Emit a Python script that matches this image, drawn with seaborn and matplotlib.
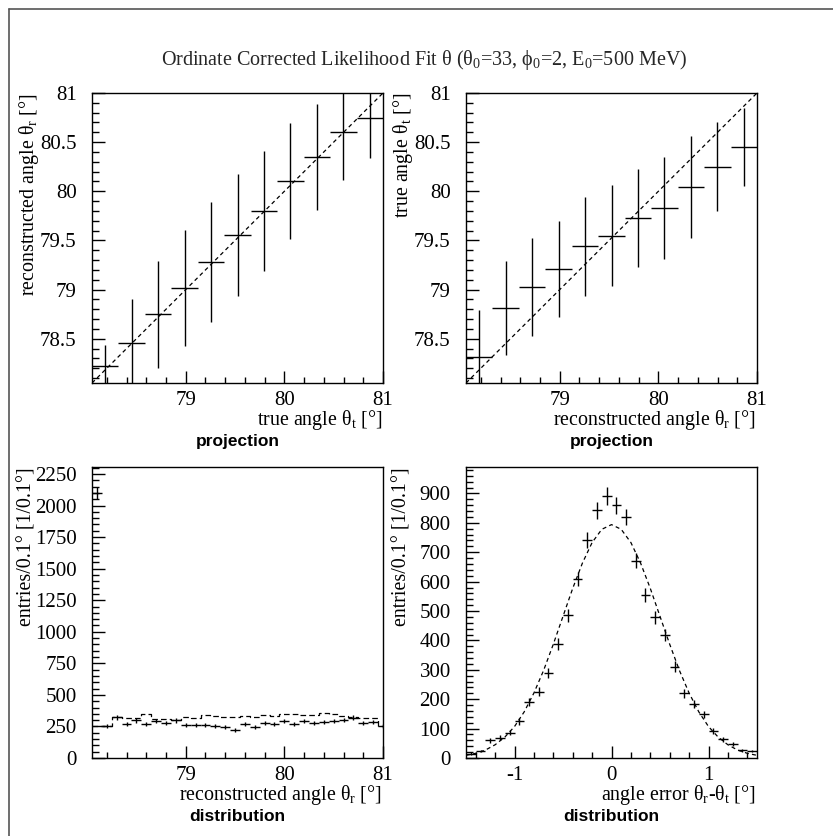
import numpy as np
import pandas as pd
import matplotlib
matplotlib.use("Agg")
import matplotlib.pyplot as plt
from matplotlib.ticker import MultipleLocator, FuncFormatter
from matplotlib.lines import Line2D
import seaborn as sns

# ---------------- data ----------------
title = "Ordinate Corrected Likelihood Fit θ (θ$_0$=33, ϕ$_0$=2, E$_0$=500 MeV)"

angle_range = [78.05, 81.0]

# profile bins (top panels)
prof_centers = [78.184, 78.452, 78.720, 78.989, 79.257, 79.525, 79.793, 80.061, 80.329, 80.598, 80.866]
prof_width = 0.268
reco_vs_true = [78.22, 78.46, 78.75, 79.02, 79.28, 79.56, 79.80, 80.10, 80.35, 80.60, 80.75]
reco_vs_true_err = [0.22, 0.44, 0.545, 0.59, 0.61, 0.62, 0.61, 0.59, 0.54, 0.48, 0.41]
true_vs_reco = [78.31, 78.81, 79.03, 79.21, 79.44, 79.55, 79.73, 79.83, 80.04, 80.25, 80.45]
true_vs_reco_err = [0.48, 0.48, 0.50, 0.49, 0.50, 0.51, 0.50, 0.52, 0.52, 0.45, 0.40]

# reconstructed-angle distribution (bottom left), 0.1 deg bins
dist_centers = [78.1, 78.2, 78.3, 78.4, 78.5, 78.6, 78.7, 78.8, 78.9, 79.0,
                79.1, 79.2, 79.3, 79.4, 79.5, 79.6, 79.7, 79.8, 79.9, 80.0,
                80.1, 80.2, 80.3, 80.4, 80.5, 80.6, 80.7, 80.8, 80.9, 81.0]
dist_reco = [2100, 250, 322, 266, 298, 266, 292, 277, 298, 258,
             262, 262, 253, 245, 223, 266, 245, 277, 266, 292,
             266, 292, 277, 285, 292, 303, 319, 277, 285, 250]
dist_true = [250, 250, 324, 320, 320, 346, 311, 311, 303, 325,
             320, 343, 333, 325, 325, 330, 325, 338, 330, 351,
             346, 338, 338, 356, 351, 330, 325, 317, 320, 250]
dist_bin = 0.1

# angle error distribution (bottom right)
err_centers = [-1.45, -1.35, -1.25, -1.15, -1.05, -0.95, -0.85, -0.75, -0.65, -0.55,
               -0.45, -0.35, -0.25, -0.15, -0.05, 0.05, 0.15, 0.25, 0.35, 0.45,
               0.55, 0.65, 0.75, 0.85, 0.95, 1.05, 1.15, 1.25, 1.35, 1.45]
err_counts = [15, 24, 60, 69, 86, 125, 189, 225, 288, 387,
              485, 609, 741, 843, 891, 860, 820, 671, 555, 478,
              419, 311, 220, 183, 149, 92, 63, 47, 26, 24]
err_bin = 0.1
# dashed fit curve
fit_x = [-1.5, -1.4, -1.3, -1.2, -1.1, -1.0, -0.9, -0.8, -0.7, -0.6, -0.5, -0.4, -0.3, -0.2, -0.1, 0.0,
         0.1, 0.2, 0.3, 0.4, 0.5, 0.6, 0.7, 0.8, 0.9, 1.0, 1.1, 1.2, 1.3, 1.4, 1.5]
fit_y = [9, 16, 27, 45, 71, 107, 157, 221, 298, 387, 482, 577, 663, 733, 778, 794,
         778, 733, 663, 577, 482, 387, 298, 221, 157, 107, 71, 45, 27, 16, 9]

# ---------------- style ----------------
sns.set_theme(style="white")
plt.rcParams["font.family"] = ["Liberation Serif", "DejaVu Serif"]
plt.rcParams["mathtext.fontset"] = "custom"
plt.rcParams["mathtext.rm"] = "Liberation Serif"
plt.rcParams["mathtext.it"] = "Liberation Serif:italic"
plt.rcParams["mathtext.bf"] = "Liberation Serif:bold"
plt.rcParams["axes.unicode_minus"] = False

W, H = 833, 836
fig = plt.figure(figsize=(W / 100, H / 100), dpi=100)
fig.patch.set_facecolor("white")


def axes_px(left, top, right, bottom):
    return fig.add_axes([left / W, 1 - bottom / H, (right - left) / W, (bottom - top) / H])


ax_tl = axes_px(92, 93, 383, 383)
ax_tr = axes_px(466, 93, 757, 383)
ax_bl = axes_px(92, 467, 383, 758)
ax_br = axes_px(466, 467, 757, 758)

fmt = FuncFormatter(lambda v, p: f"{v:g}")


def style(ax, xmaj, xmin, ymaj, ymin):
    ax.set_facecolor("white")
    ax.grid(False)
    for s in ax.spines.values():
        s.set_color("black")
        s.set_linewidth(1.0)
        s.set_visible(True)
    ax.xaxis.set_major_locator(MultipleLocator(xmaj))
    ax.xaxis.set_minor_locator(MultipleLocator(xmin))
    ax.yaxis.set_major_locator(MultipleLocator(ymaj))
    ax.yaxis.set_minor_locator(MultipleLocator(ymin))
    ax.xaxis.set_major_formatter(fmt)
    ax.yaxis.set_major_formatter(fmt)
    ax.tick_params(axis="both", which="both", direction="in", top=False, right=False,
                   bottom=True, left=True, colors="black", width=1.0, labelsize=15)
    ax.tick_params(axis="x", which="major", length=8.4, pad=5.5)
    ax.tick_params(axis="x", which="minor", length=4.3)
    ax.tick_params(axis="y", which="major", length=9.4, pad=11)
    ax.tick_params(axis="y", which="minor", length=5.0)
    ax.set_xlabel("")
    ax.set_ylabel("")


dash = (0, (3.2, 2.6))

# ---- top panels: profiles ----
df_diag = pd.DataFrame({"x": angle_range, "y": angle_range})
for ax, yv, ye in [(ax_tl, reco_vs_true, reco_vs_true_err), (ax_tr, true_vs_reco, true_vs_reco_err)]:
    sns.lineplot(data=df_diag, x="x", y="y", ax=ax, color="black", linewidth=0.9,
                 linestyle=dash, estimator=None)
    ax.errorbar(prof_centers, yv, xerr=prof_width / 2, yerr=ye, fmt="none",
                ecolor="black", elinewidth=1.0, capsize=0)
    ax.set_xlim(*angle_range)
    ax.set_ylim(*angle_range)
    style(ax, 1, 0.2, 0.5, 0.1)

# ---- bottom left: distribution ----
edges = [c - dist_bin / 2 for c in dist_centers] + [dist_centers[-1] + dist_bin / 2]
df_true = pd.DataFrame({"x": edges, "y": dist_true + [dist_true[-1]]})
sns.lineplot(data=df_true, x="x", y="y", ax=ax_bl, color="black", linewidth=0.9,
             linestyle=(0, (4.5, 2.5)), drawstyle="steps-post", estimator=None)
ax_bl.errorbar(dist_centers, dist_reco, xerr=dist_bin / 2, yerr=np.sqrt(dist_reco),
               fmt="none", ecolor="black", elinewidth=1.0, capsize=0)
ax_bl.set_xlim(*angle_range)
ax_bl.set_ylim(0, 2305)
style(ax_bl, 1, 0.2, 250, 50)

# ---- bottom right: angle error ----
df_fit = pd.DataFrame({"x": fit_x, "y": fit_y})
sns.lineplot(data=df_fit, x="x", y="y", ax=ax_br, color="black", linewidth=0.9,
             linestyle=dash, estimator=None)
ax_br.errorbar(err_centers, err_counts, xerr=err_bin / 2, yerr=np.sqrt(err_counts),
               fmt="none", ecolor="black", elinewidth=1.0, capsize=0)
ax_br.set_xlim(-1.5, 1.5)
ax_br.set_ylim(0, 990)
style(ax_br, 1, 0.2, 100, 20)

# ---------------- texts ----------------
def ftext(x, y, s, **kw):
    fig.text(x / W, 1 - y / H, s, **kw)


ftext(424.5, 65, title, ha="center", va="baseline", fontsize=14.5)

lab = dict(fontsize=14.4, color="black")
ftext(382, 425, "true angle θ$_{\\mathrm{t}}$ [°]", ha="right", va="baseline", **lab)
ftext(756, 425, "reconstructed angle θ$_{\\mathrm{r}}$ [°]", ha="right", va="baseline", **lab)
ftext(382, 800, "reconstructed angle θ$_{\\mathrm{r}}$ [°]", ha="right", va="baseline", **lab)
ftext(756, 800, "angle error θ$_{\\mathrm{r}}$-θ$_{\\mathrm{t}}$ [°]", ha="right", va="baseline", **lab)

ftext(29, 93, "reconstructed angle θ$_{\\mathrm{r}}$ [°]", ha="center", va="top", rotation=90, **lab)
ftext(403, 93, "true angle θ$_{\\mathrm{t}}$ [°]", ha="center", va="top", rotation=90, **lab)
ftext(27, 467, "entries/0.1° [1/0.1°]", ha="center", va="top", rotation=90, **lab)
ftext(402, 467, "entries/0.1° [1/0.1°]", ha="center", va="top", rotation=90, **lab)

bold = dict(fontsize=12.5, fontweight="bold", family=["Liberation Sans", "DejaVu Sans"], color="black")
ftext(237.5, 446, "projection", ha="center", va="baseline", **bold)
ftext(611.5, 446, "projection", ha="center", va="baseline", **bold)
ftext(237.5, 821, "distribution", ha="center", va="baseline", **bold)
ftext(611.5, 821, "distribution", ha="center", va="baseline", **bold)

# canvas border (left and top edges)
fig.add_artist(Line2D([9 / W, 9 / W], [0, 1 - 9 / H], transform=fig.transFigure, color="#555555", lw=1.2))
fig.add_artist(Line2D([9 / W, 1], [1 - 9 / H, 1 - 9 / H], transform=fig.transFigure, color="#555555", lw=1.2))

fig.savefig("out.png", dpi=100, facecolor="white")
